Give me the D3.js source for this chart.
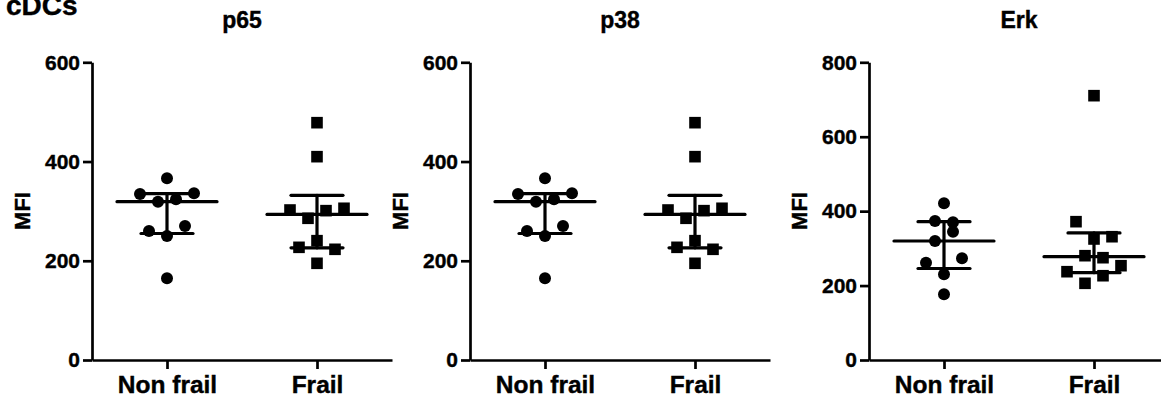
<!DOCTYPE html>
<html>
<head>
<meta charset="utf-8">
<script src="https://cdn.jsdelivr.net/npm/d3@7"></script>
<style>
body { margin: 0; background: #fff; }
text { font-family: "Liberation Sans", Arial, sans-serif; font-weight: bold; fill: #000; stroke: #000; stroke-width: 0.4px; }
</style>
</head>
<body>
<script>
var w = 1161, h = 400;

var categories = ["Non frail", "Frail"];
var panelTitles = ["p65", "p38", "Erk"];
var ticksP65 = [0, 200, 400, 600];
var ticksP38 = [0, 200, 400, 600];
var ticksErk = [0, 200, 400, 600, 800];

// MFI values, grouped the way Prism stacks them side by side (top to bottom)
var p65NonFrail = [[366.2], [334.6, 319, 323.9, 336], [260, 250, 270], [164.7]];
var p65Frail = [[478.3], [409.8], [302.3, 285.6, 301, 305.8], [227.1, 240.5, 223.1], [194.9]];
var p38NonFrail = [[366.2], [334.6, 319, 323.9, 336], [260, 250, 270], [164.7]];
var p38Frail = [[478.3], [409.8], [302.3, 285.6, 301, 305.8], [227.1, 240.5, 223.1], [194.9]];
var erkNonFrail = [[421.1], [373.5, 370], [319.8, 344.8], [261.5, 230.3, 273.3], [176.6]];
var erkFrail = [[710.3], [371.7, 325.2, 331.3], [280.3, 274.9], [237.3, 206.1, 226.5, 253.4]];

var panels = [
	{title: panelTitles[0], ticks: ticksP65, groups: [p65NonFrail, p65Frail]},
	{title: panelTitles[1], ticks: ticksP38, groups: [p38NonFrail, p38Frail]},
	{title: panelTitles[2], ticks: ticksErk, groups: [erkNonFrail, erkFrail]}
];
var panelLeft = [92, 470, 869];

// quartiles the way Prism computes them: position p*(n+1)
function quant(vals, p) {
	var s = vals.slice().sort(d3.ascending);
	var pos = p * (s.length + 1) - 1;
	var lo = Math.floor(pos), f = pos - lo;
	if (lo < 0) return s[0];
	if (lo >= s.length - 1) return s[s.length - 1];
	return s[lo] + f * (s[lo + 1] - s[lo]);
}

var svg = d3.select("body").append("svg")
	.attr("width", w)
	.attr("height", h);

svg.append("text")
	.attr("x", 6).attr("y", 15)
	.style("font-size", "28px")
	.text("cDCs");

panels.forEach(function(p, k) {
	var x0 = panelLeft[k];
	var y = d3.scaleLinear().domain([0, d3.max(p.ticks)]).range([360, 62.3]);
	var x = d3.scalePoint().domain(categories).range([x0, x0 + 300]).padding(0.5);

	var g = svg.append("g");

	g.append("text")
		.attr("x", x0 + 150).attr("y", 27.5)
		.attr("text-anchor", "middle")
		.style("font-size", "23px")
		.text(p.title);

	var yAxis = g.append("g")
		.attr("transform", "translate(" + x0 + ",0)")
		.call(d3.axisLeft(y).tickValues(p.ticks).tickSize(9).tickSizeOuter(0).tickPadding(3));
	yAxis.selectAll("text").style("font-size", "21px").style("font-family", "Liberation Sans, Arial").style("font-weight", "bold");

	var xAxis = g.append("g")
		.attr("transform", "translate(0,360)")
		.call(d3.axisBottom(x).tickSize(9).tickSizeOuter(0).tickPadding(7));
	xAxis.selectAll("text").style("font-size", "24.5px").style("font-family", "Liberation Sans, Arial").style("font-weight", "bold");

	g.selectAll(".domain, .tick line").attr("stroke", "#000").attr("stroke-width", 2.7);

	g.append("text")
		.attr("transform", "translate(" + (x0 - 62) + ",211) rotate(-90)")
		.attr("text-anchor", "middle")
		.style("font-size", "22px")
		.text("MFI");

	p.groups.forEach(function(rows, gi) {
		var cx = x(categories[gi]);
		var pts = [];
		rows.forEach(function(row) {
			row.forEach(function(v, i) {
				pts.push({v: v, dx: (i - (row.length - 1) / 2) * 18});
			});
		});
		var all = pts.map(function(d) { return d.v; });

		if (gi == 0) {
			g.selectAll(null).data(pts).enter().append("circle")
				.attr("cx", function(d) { return cx + d.dx; })
				.attr("cy", function(d) { return y(d.v); })
				.attr("r", 6)
				.attr("fill", "#000");
		} else {
			g.selectAll(null).data(pts).enter().append("rect")
				.attr("x", function(d) { return cx + d.dx - 5.8; })
				.attr("y", function(d) { return y(d.v) - 5.8; })
				.attr("width", 11.6).attr("height", 11.6)
				.attr("fill", "#000");
		}

		var med = quant(all, 0.5), q1 = quant(all, 0.25), q3 = quant(all, 0.75);
		var lines = [
			[cx - 50, y(med), cx + 50, y(med)],
			[cx, y(q1), cx, y(q3)],
			[cx - 26, y(q1), cx + 26, y(q1)],
			[cx - 26, y(q3), cx + 26, y(q3)]
		];
		g.selectAll(null).data(lines).enter().append("line")
			.attr("x1", function(d) { return d[0]; })
			.attr("y1", function(d) { return d[1]; })
			.attr("x2", function(d) { return d[2]; })
			.attr("y2", function(d) { return d[3]; })
			.attr("stroke", "#000")
			.attr("stroke-width", 3.2)
			.attr("stroke-linecap", "round");
	});
});
</script>
</body>
</html>
